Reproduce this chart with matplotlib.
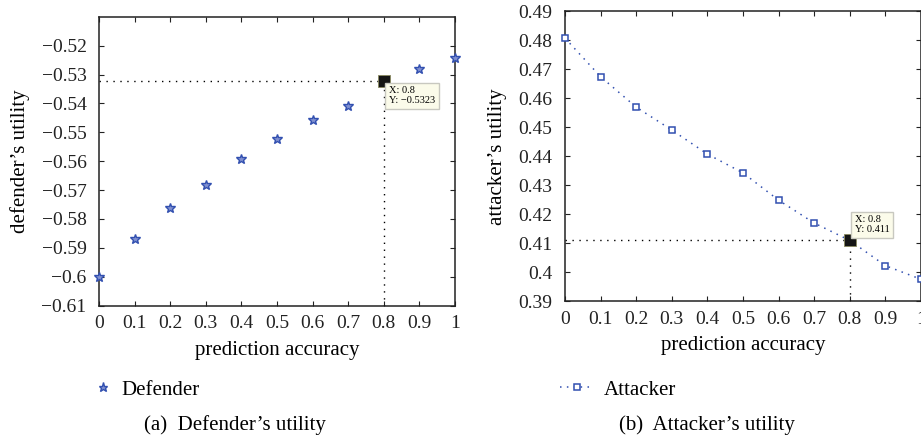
import numpy as np
import matplotlib
matplotlib.use('Agg')
import matplotlib.pyplot as plt
from matplotlib.ticker import FuncFormatter

plt.rcParams['font.family'] = ['Liberation Serif', 'DejaVu Serif']

accuracy = [0.0, 0.1, 0.2, 0.3, 0.4, 0.5, 0.6, 0.7, 0.8, 0.9, 1.0]
defender = [-0.6000, -0.5868, -0.5764, -0.5682, -0.5594, -0.5522,
            -0.5459, -0.5408, -0.5323, -0.5281, -0.5243]
attacker = [0.4808, 0.4675, 0.4570, 0.4491, 0.4408, 0.4343,
            0.4249, 0.4170, 0.4110, 0.4023, 0.3976]
def_yticks = [-0.61, -0.60, -0.59, -0.58, -0.57, -0.56, -0.55, -0.54, -0.53, -0.52]
att_yticks = [0.39, 0.40, 0.41, 0.42, 0.43, 0.44, 0.45, 0.46, 0.47, 0.48, 0.49]
tip_x = 0.8
tip_def = -0.5323
tip_att = 0.411

blue = '#3250b0'
W, H = 921, 440
fig = plt.figure(figsize=(W / 100, H / 100), dpi=100)


def px_axes(x0, y0, x1, y1):
    return fig.add_axes([x0 / W, 1 - y1 / H, (x1 - x0) / W, (y1 - y0) / H])


def fmt(v, pos):
    s = '%g' % round(v, 4)
    return s.replace('-', '\u2212')


def style(ax):
    ax.set_xlim(0, 1)
    ax.set_xticks(accuracy)
    ax.xaxis.set_major_formatter(FuncFormatter(fmt))
    ax.yaxis.set_major_formatter(FuncFormatter(fmt))
    ax.tick_params(direction='in', length=3.5, width=0.8, top=True, right=True,
                   labelsize=14, colors='#222222')
    ax.tick_params(axis='y', pad=9)
    ax.tick_params(axis='x', pad=7)
    for s in ax.spines.values():
        s.set_linewidth(1.1)
        s.set_color('#222222')
    ax.set_xlabel('prediction accuracy', fontsize=15, labelpad=6)


def datatip(ax, x, y, ybottom, text, offset, va):
    ax.plot([0, x], [y, y], color='black', ls=(0, (1, 4)), lw=1.0)
    ax.plot([x, x], [ybottom, y], color='black', ls=(0, (1, 4)), lw=1.0)
    ax.plot([x], [y], marker='s', ms=8, color='#151515', mec='#8a8a60', mew=0.6,
            zorder=10, clip_on=False)
    ax.annotate(text, xy=(x, y), xytext=offset, textcoords='offset pixels',
                ha='left', va=va, fontsize=7.5, linespacing=1.15, zorder=11,
                bbox=dict(boxstyle='square,pad=0.35', fc='#fbfbea', ec='#c8c8c0', lw=1.0))


# (a) defender
ax1 = px_axes(99, 16.8, 455, 305.5)
style(ax1)
ax1.set_ylim(-0.61, -0.51)
ax1.set_yticks(def_yticks)
h1, = ax1.plot(accuracy, defender, ls='none', marker='*', ms=7.5, mfc='#8090d0',
               mec=blue, mew=1.0, clip_on=False, zorder=5, label='Defender')
datatip(ax1, tip_x, tip_def, -0.61, 'X: 0.8\nY: \u22120.5323', (5, -5), 'top')
ax1.set_ylabel('defender\u2019s utility', fontsize=15, labelpad=8)

# (b) attacker
ax2 = px_axes(565, 11.5, 921, 301.3)
style(ax2)
ax2.set_ylim(0.39, 0.49)
ax2.set_yticks(att_yticks)
h2, = ax2.plot(accuracy, attacker, ls=(0, (1, 3.5)), lw=1.1, color=blue, marker='s',
               ms=5, mfc='white', mec=blue, mew=1.1, clip_on=False, zorder=5,
               label='Attacker')
datatip(ax2, tip_x, tip_att, 0.39, 'X: 0.8\nY: 0.411', (5, 6), 'bottom')
ax2.set_ylabel('attacker\u2019s utility', fontsize=15, labelpad=8)

# legends under the panels
fig.legend(handles=[h1], loc='center left', bbox_to_anchor=(97 / W, 1 - 390 / H),
           frameon=False, fontsize=15, handlelength=0.6, handletextpad=0.55,
           borderpad=0, borderaxespad=0, numpoints=1, markerscale=0.9)
fig.legend(handles=[h2], loc='center left', bbox_to_anchor=(560 / W, 1 - 390 / H),
           frameon=False, fontsize=15, handlelength=1.6, handletextpad=0.5,
           borderpad=0, borderaxespad=0, numpoints=1)

fig.text(235 / W, 1 - 425 / H, '(a)  Defender\u2019s utility', ha='center', va='center',
         fontsize=15)
fig.text(707 / W, 1 - 425 / H, '(b)  Attacker\u2019s utility', ha='center', va='center',
         fontsize=15)

fig.savefig('out.png', dpi=100)
